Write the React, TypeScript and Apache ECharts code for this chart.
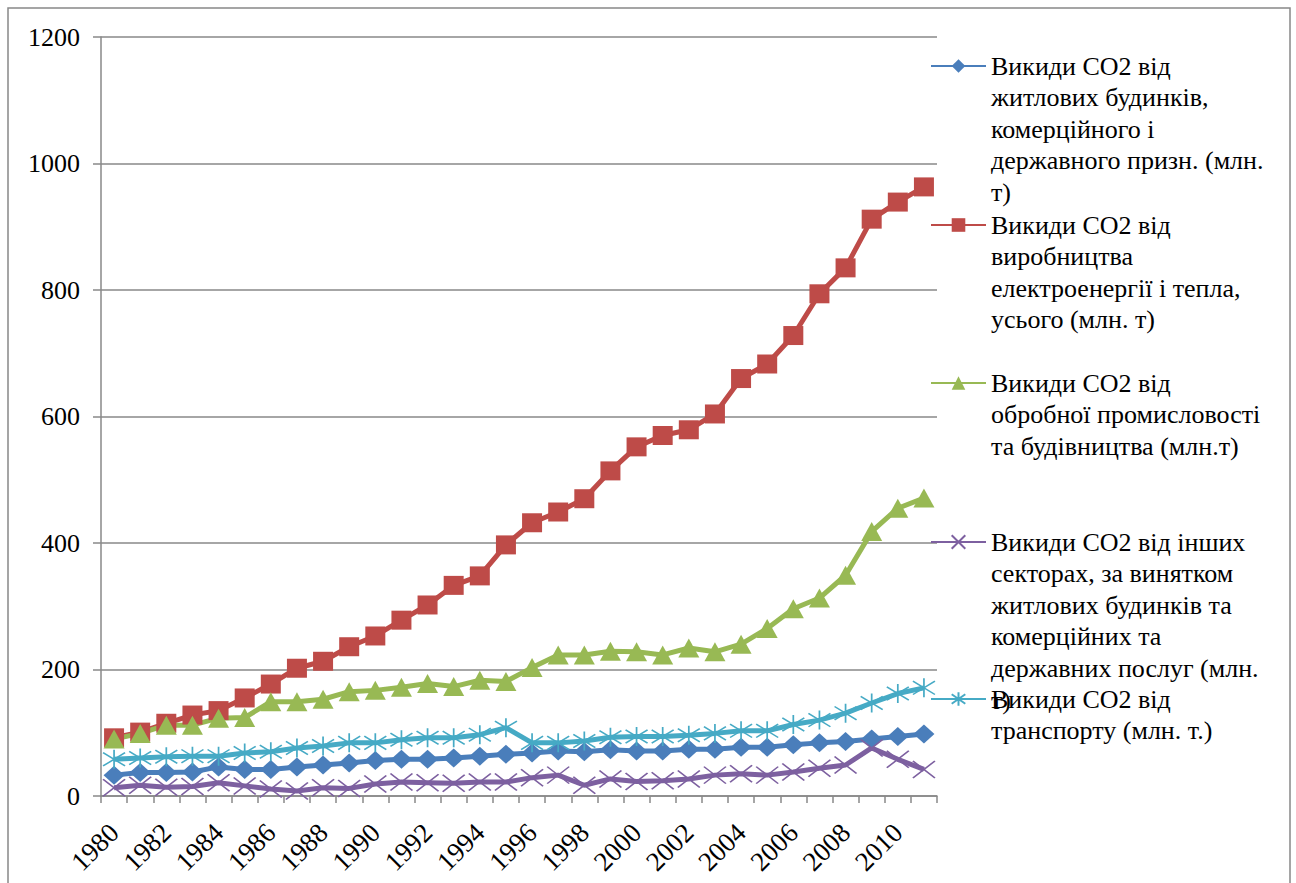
import React, { useEffect, useRef } from "react";
import * as echarts from "echarts";

const years = ["1980","1981","1982","1983","1984","1985","1986","1987","1988","1989","1990","1991","1992","1993","1994","1995","1996","1997","1998","1999","2000","2001","2002","2003","2004","2005","2006","2007","2008","2009","2010","2011"];

const residential = [33,37,37,38,46,42,42,46,49,52,56,58,58,60,63,66,68,71,70,73,71,71,74,74,77,77,81,84,86,90,94,98];
const power = [92,101,115,128,135,155,177,202,213,236,253,278,302,333,348,397,432,449,470,514,552,570,579,604,660,683,728,794,835,912,939,963];
const manufacturing = [90,99,112,112,123,124,149,149,153,165,167,172,178,173,183,181,203,223,223,229,228,223,234,228,240,265,296,313,349,418,455,471];
const otherSectors = [13,17,14,15,21,16,11,8,13,12,19,22,21,20,22,22,29,33,17,27,23,24,27,33,35,33,38,44,49,76,58,42];
const transport = [58,60,62,63,63,68,70,76,79,84,84,89,92,92,97,108,84,84,87,93,94,94,96,99,103,103,113,120,131,147,162,171];

const seriesNames = [
  "Викиди CO2 від житлових будинків, комерційного і державного призн. (млн. т)",
  "Викиди CO2 від виробництва електроенергії і тепла, усього (млн. т)",
  "Викиди CO2 від обробної промисловості та будівництва (млн.т)",
  "Викиди CO2 від інших секторах, за винятком житлових будинків та комерційних та державних послуг (млн. т)",
  "Викиди CO2 від транспорту (млн. т.)",
];

const legendLines = [
  ["Викиди CO2 від", "житлових будинків,", "комерційного і", "державного призн. (млн.", "т)"],
  ["Викиди CO2 від", "виробництва", "електроенергії і тепла,", "усього (млн. т)"],
  ["Викиди CO2 від", "обробної промисловості", "та будівництва (млн.т)"],
  ["Викиди CO2 від інших", "секторах, за винятком", "житлових будинків та", "комерційних та", "державних послуг (млн.", "т)"],
  ["Викиди CO2 від", "транспорту (млн. т.)"],
];

const colors = ["#4A7EBB", "#BE4B48", "#98B954", "#7D60A0", "#46AAC5"];
const legendCenters = [66, 225, 383, 542, 699];

const FONT = "'Liberation Serif', 'Times New Roman', serif";
const LH = 31.6;

const X_PATH = "path://M0,0L20,20M20,0L0,20";
const STAR_PATH = "path://M10,0L10,20M0,3L20,17M0,17L20,3";

export default function App() {
  const ref = useRef<HTMLDivElement>(null);
  useEffect(() => {
    if (!ref.current) return;
    const chart = echarts.init(ref.current, undefined, { renderer: "svg" });
    const dataSets = [residential, power, manufacturing, otherSectors, transport];
    const symbols = ["diamond", "rect", "triangle", X_PATH, STAR_PATH];
    const symbolSizes: any[] = [[21, 19], [20, 19], [21, 19], [22, 17], [22, 19]];

    const legends = seriesNames.map((name, i) => {
      const n = legendLines[i].length;
      const prefix = new Array(n - 1).fill(" ").join("\n") + "\n";
      return {
        data: [name],
        left: 930,
        top: legendCenters[i] - ((2 * n - 1) * LH) / 2,
        padding: 0,
        itemWidth: 55,
        itemHeight: 17,
        selectedMode: false,
        formatter: () => prefix + legendLines[i].join("\n"),
        textStyle: {
          fontFamily: FONT,
          fontSize: 26,
          lineHeight: LH,
          color: "#000",
        },
      };
    });

    const series = seriesNames.map((name, i) => {
      const isStroke = i >= 3;
      return {
        name,
        type: "line",
        data: dataSets[i],
        symbol: symbols[i],
        symbolSize: symbolSizes[i],
        showAllSymbol: true,
        lineStyle: { color: colors[i], width: 5 },
        itemStyle: isStroke
          ? { color: colors[i], borderColor: colors[i], borderWidth: 1.6 }
          : { color: colors[i], borderWidth: 0 },
        emphasis: { disabled: true },
      };
    });

    chart.setOption({
      animation: false,
      color: colors,
      textStyle: { fontFamily: FONT },
      grid: { left: 101, right: 359, top: 37, bottom: 87, containLabel: false },
      legend: legends,
      xAxis: {
        type: "category",
        data: years,
        boundaryGap: true,
        axisLine: { show: true, lineStyle: { color: "#888", width: 1.5 } },
        axisTick: { show: true, interval: 0, alignWithLabel: false, length: 7, lineStyle: { color: "#888", width: 1.5 } },
        axisLabel: {
          interval: 1,
          rotate: 45,
          margin: 32,
          fontFamily: FONT,
          fontSize: 27,
          color: "#000",
        },
        splitLine: { show: false },
      },
      yAxis: {
        type: "value",
        min: 0,
        max: 1200,
        interval: 200,
        axisLine: { show: true, lineStyle: { color: "#888", width: 1.5 } },
        axisTick: { show: true, length: 8, lineStyle: { color: "#888", width: 1.5 } },
        axisLabel: { margin: 21, fontFamily: FONT, fontSize: 26, color: "#000", formatter: (v: number) => String(v) },
        splitLine: { show: true, lineStyle: { color: "#888", width: 1.5 } },
      },
      graphic: [
        {
          type: "rect",
          shape: { x: 8, y: 8, width: 1282, height: 900 },
          style: { fill: "none", stroke: "#888", lineWidth: 1.5 },
          silent: true,
        },
      ],
      series,
    });
    return () => chart.dispose();
  }, []);
  return (
    <div
      ref={ref}
      style={{ position: "fixed", left: 0, top: 0, width: 1296, height: 883, background: "#fff" }}
    />
  );
}
